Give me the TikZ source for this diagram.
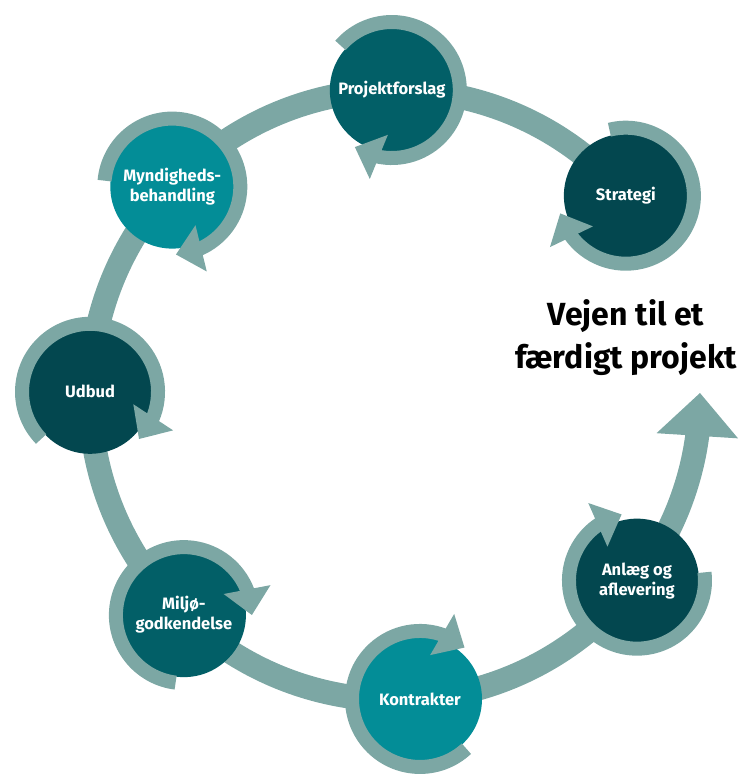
\documentclass[tikz,border=0pt]{standalone}
\usepackage{fontspec}
\setmainfont{Fira Sans}
\usetikzlibrary{arrows.meta,bending,calc,backgrounds}
\definecolor{ringc}{HTML}{7CA7A4}
\definecolor{darkA}{HTML}{03474F}
\definecolor{midB}{HTML}{025F67}
\definecolor{brightC}{HTML}{038D97}
\tikzset{
  stage/.style={circle, minimum size=124pt, inner sep=0pt, text=white, align=center,
    font=\bfseries\fontsize{16.5}{20}\selectfont},
  bigring/.style={draw=ringc, line width=24pt, -{Triangle[width=79pt,length=43pt]}},
  ringarc/.style={draw=ringc, line width=14pt, -{Triangle[width=46pt,length=26pt]}},
  titletext/.style={align=center, text=black, font=\bfseries\fontsize{32}{43}\selectfont}
}
\begin{document}
\begin{tikzpicture}[x=1pt,y=1pt]
\useasboundingbox (0,0) rectangle (747,776);
\coordinate (ctr) at (395,381);
% stages
\node[stage, fill=darkA]   (S)  at ($(ctr)+(40.8:305)$)  {Strategi};
\node[stage, fill=midB]    (P)  at ($(ctr)+(90.6:305)$)  {Projektforslag};
\node[stage, fill=brightC] (M)  at ($(ctr)+(136.9:305)$) {Myndigheds-\\behandling};
\node[stage, fill=darkA]   (U)  at ($(ctr)+(179.4:305)$) {Udbud};
\node[stage, fill=midB]    (Mi) at ($(ctr)+(226.2:305)$) {Miljø-\\godkendelse};
\node[stage, fill=brightC] (K)  at ($(ctr)+(274.7:305)$) {Kontrakter};
\node[stage, fill=darkA]   (A)  at ($(ctr)+(322.5:305)$) {Anlæg og\\aflevering};
% big ring behind
\begin{scope}[on background layer]
  \draw[bigring] (S.center) arc[start angle=40.8, end angle=360.4, radius=305pt];
\end{scope}
% rings around stages
\draw[ringarc] (P.center)  ++(139:68) arc[start angle=139, end angle=-123, radius=68pt];
\draw[ringarc] (S.center)  ++(104:68) arc[start angle=104, end angle=-165, radius=68pt];
\draw[ringarc] (M.center)  ++(175:68) arc[start angle=175, end angle=-87,  radius=68pt];
\draw[ringarc] (U.center)  ++(224:68) arc[start angle=224, end angle=-44,  radius=68pt];
\draw[ringarc] (Mi.center) ++(263:68) arc[start angle=263, end angle=0,    radius=68pt];
\draw[ringarc] (K.center)  ++(313:68) arc[start angle=313, end angle=49,   radius=68pt];
\draw[ringarc] (A.center)  ++(7:68)   arc[start angle=7,   end angle=-257, radius=68pt];
% title
\node[titletext] (title) at (626,438) {Vejen til et\\færdigt projekt};
\end{tikzpicture}
\end{document}
